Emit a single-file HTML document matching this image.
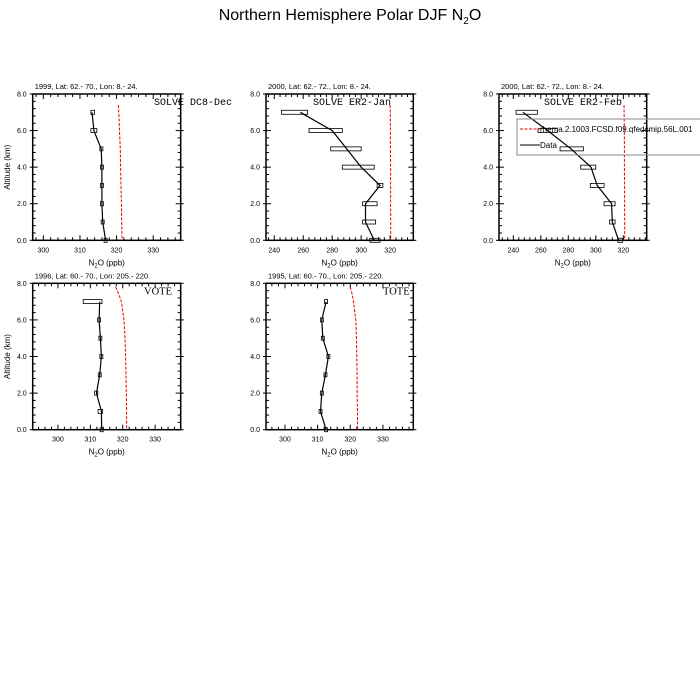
<!DOCTYPE html>
<html><head><meta charset="utf-8"><style>
body{margin:0;background:#fff;width:700px;height:700px;overflow:hidden}
svg{display:block;font-family:"Liberation Sans",sans-serif}
</style></head><body>
<svg id="c" width="700" height="700" xmlns="http://www.w3.org/2000/svg">
<text x="350" y="20" text-anchor="middle" font-size="16">Northern Hemisphere Polar DJF N<tspan font-size="10" dy="4">2</tspan><tspan dy="-4">O</tspan></text>
</svg>
<script>
// Panel data
const altitudes = [7,6,5,4,3,2,1,0];
const dec99Values = [313.3,313.8,315.8,316,316,316,316.2,317];
const dec99Lo = [313,313,315.5,315.8,315.7,315.8,316,316.8];
const dec99Hi = [314,314.6,316.2,316.2,316.3,316.2,316.4,317.2];
const jan00Values = [258,280,290,300,313,303,303,309];
const jan00Lo = [245,264,279,287,311,301,301,306];
const jan00Hi = [263,287,300,309,315,311,310,313];
const feb00Values = [247,265,282,296.5,301,311.5,312,316.6];
const feb00Lo = [242,258,274,289,296,306,310,316];
const feb00Hi = [257.5,272,291,300,306,314,314,319.5];
const vote96Values = [312.9,312.7,313.1,313.4,312.9,311.9,313.4,313.5];
const vote96Lo = [307.8,312.5,313,313.2,312.7,311.3,312.4,313.3];
const vote96Hi = [313.6,312.9,313.2,313.6,313.1,312.3,313.8,313.7];
const tote95Values = [312.6,311.3,311.6,313.3,312.4,311.3,310.9,312.6];
const tote95Lo = [312.4,311.1,311.2,313.3,312.4,311.1,310.6,312.6];
const tote95Hi = [312.8,311.5,312,313.3,312.4,311.5,311.2,312.6];
const modelAlt = [7.8,7.4,7,6,5,4,3,2,1,0];
const dec99Model = [null,320.5,320.6,320.8,321,321.1,321.2,321.3,321.4,321.5];
const jan00Model = [null,320,320.1,320.2,320.2,320.3,320.3,320.3,320.4,320.4];
const feb00Model = [null,320.5,320.6,320.7,320.8,320.8,320.9,320.9,321,321];
const vote96Model = [317.8,318.8,319.6,320.4,320.7,320.9,321,321.1,321.2,321.2];
const tote95Model = [320,320.6,321,321.7,321.9,322,322.1,322.1,322.2,322.2];
const yTicks = [0,2,4,6,8];
const yTickLabels = ["0.0","2.0","4.0","6.0","8.0"];
const xTicksA = [300,310,320,330];
const xTicksB = [240,260,280,300,320];

const svg=document.getElementById('c');
const NS='http://www.w3.org/2000/svg';
function mk(tag,attrs,parent){const e=document.createElementNS(NS,tag);for(const k in attrs)e.setAttribute(k,attrs[k]);(parent||svg).appendChild(e);return e;}

function panel(p){
  const g=mk('g',{});
  
  
  const X=v=>p.x0+(v-p.xmin)/(p.xmax-p.xmin)*(p.x1-p.x0);
  const Y=v=>p.y1-(v-0)/8*(p.y1-p.y0);
  const xstep=p.xticks[1]-p.xticks[0];
  for(let v=Math.ceil(p.xmin/(xstep/5))*(xstep/5);v<=p.xmax;v+=xstep/5){
    const major=p.xticks.some(t=>Math.abs(t-v)<1e-6);const L=major?5:3;const x=X(v);
    mk('line',{x1:x,x2:x,y1:p.y1,y2:p.y1-L,stroke:'#000','stroke-width':1},g);
    mk('line',{x1:x,x2:x,y1:p.y0,y2:p.y0+L,stroke:'#000','stroke-width':1},g);
  }
  p.xticks.forEach(v=>{const t=mk('text',{x:X(v),y:p.y1+12,'text-anchor':'middle','font-size':7},g);t.textContent=v;
    
    });
  for(let v=0;v<=8.001;v+=0.4){
    const major=Math.abs(v/2-Math.round(v/2))<1e-6;const L=major?5:3;const y=Y(v);
    mk('line',{x1:p.x0,x2:p.x0+L,y1:y,y2:y,stroke:'#000','stroke-width':1},g);
    mk('line',{x1:p.x1,x2:p.x1-L,y1:y,y2:y,stroke:'#000','stroke-width':1},g);
    if(major){mk('line',{x1:p.x0-3,x2:p.x0,y1:y,y2:y,stroke:'#000','stroke-width':1},g);mk('line',{x1:p.x1,x2:p.x1+3,y1:y,y2:y,stroke:'#000','stroke-width':1},g);}
  }
  yTicks.forEach((v,i)=>{const t=mk('text',{x:p.x0-6,y:Y(v)+2.5,'text-anchor':'end','font-size':7},g);t.textContent=yTickLabels[i];
    
    });
  const fr=mk('rect',{x:p.x0,y:p.y0,width:p.x1-p.x0,height:p.y1-p.y0,fill:'none',stroke:'#000','stroke-width':1.5},g);
  
  
  let d='';modelAlt.forEach((a,i)=>{const v=p.model[i];if(v==null)return;d+=(d?'L':'M')+X(v).toFixed(1)+','+Y(a).toFixed(1);});
  const ml=mk('path',{d:d,fill:'none',stroke:'#e00','stroke-width':1,'stroke-dasharray':'3,1.5'},g);
  
  
  altitudes.forEach((a,i)=>{const lo=X(p.lo[i]),hi=X(p.hi[i]);const w=Math.max(hi-lo,3);const cx=(lo+hi)/2;
    const r=mk('rect',{x:cx-w/2,y:Y(a)-2,width:w,height:4,fill:'none',stroke:'#000','stroke-width':0.8},g);
    
    });
  let dd='';altitudes.forEach((a,i)=>{dd+=(i?'L':'M')+X(p.vals[i]).toFixed(1)+','+Y(a).toFixed(1);});
  const dl=mk('path',{d:dd,fill:'none',stroke:'#000','stroke-width':1.2},g);
  
  
  const st=mk('text',{x:p.x0+2,y:p.y0-5,'font-size':7.5},g);st.textContent=p.sub;
  
  
  const cl=mk('text',{x:p.lx,y:p.y0+11,'text-anchor':'start','font-size':p.mono?10:10.5,'font-family':p.mono?'"Liberation Mono",monospace':'"Liberation Serif",serif'},g);cl.textContent=p.label;
  
  
  const xl=mk('text',{x:(p.x0+p.x1)/2,y:p.y1+25,'text-anchor':'middle','font-size':8},g);
  xl.innerHTML='N<tspan font-size="6" dy="2">2</tspan><tspan dy="-2">O (ppb)</tspan>';
  
  
  if(p.ylab){const yl=mk('text',{x:0,y:0,'text-anchor':'middle','font-size':8,transform:`translate(10,${(p.y0+p.y1)/2}) rotate(-90)`},g);yl.textContent='Altitude (km)';
    
    }
  return {X,Y,g};
}
panel({name:'panel-solve-dc8-dec',x0:32.7,x1:180.7,y0:94,y1:240.3,xmin:297.1,xmax:337.5,xticks:xTicksA,vals:dec99Values,lo:dec99Lo,hi:dec99Hi,model:dec99Model,sub:'1999, Lat: 62.- 70., Lon: 8.- 24.',label:'SOLVE DC8-Dec',mono:true,ylab:true,lx:154});
panel({name:'panel-solve-er2-jan',x0:266,x1:413.3,y0:94,y1:240.3,xmin:234.3,xmax:336,xticks:xTicksB,vals:jan00Values,lo:jan00Lo,hi:jan00Hi,model:jan00Model,sub:'2000, Lat: 62.- 72., Lon: 8.- 24.',label:'SOLVE ER2-Jan',mono:true,lx:313});
panel({name:'panel-solve-er2-feb',x0:499,x1:646.7,y0:94,y1:240.3,xmin:229.6,xmax:337,xticks:xTicksB,vals:feb00Values,lo:feb00Lo,hi:feb00Hi,model:feb00Model,sub:'2000, Lat: 62.- 72., Lon: 8.- 24.',label:'SOLVE ER2-Feb',mono:true,lx:544});
panel({name:'panel-vote',x0:32.7,x1:180.7,y0:283.3,y1:429.7,xmin:292.2,xmax:337.9,xticks:xTicksA,vals:vote96Values,lo:vote96Lo,hi:vote96Hi,model:vote96Model,sub:'1996, Lat: 60.- 70., Lon: 205.- 220.',label:'VOTE',ylab:true,lx:144});
panel({name:'panel-tote',x0:266,x1:413.3,y0:283.3,y1:429.7,xmin:294.2,xmax:339.3,xticks:xTicksA,vals:tote95Values,lo:tote95Lo,hi:tote95Hi,model:tote95Model,sub:'1995, Lat: 60.- 70., Lon: 205.- 220.',label:'TOTE',lx:383});
const lg=mk('g',{});


mk('rect',{x:517,y:119,width:190,height:36,fill:'none',stroke:'#888','stroke-width':1},lg);
mk('line',{x1:520,x2:540,y1:129,y2:129,stroke:'#e00','stroke-width':1,'stroke-dasharray':'3,1.5'},lg);
const t1=mk('text',{x:540,y:132,'font-size':8},lg);t1.textContent='rhema.2.1003.FCSD.f09.qfedcmip.56L.001';


mk('line',{x1:520,x2:540,y1:145,y2:145,stroke:'#000','stroke-width':1},lg);
const t2=mk('text',{x:540,y:148,'font-size':8},lg);t2.textContent='Data';


</script>
</body></html>
